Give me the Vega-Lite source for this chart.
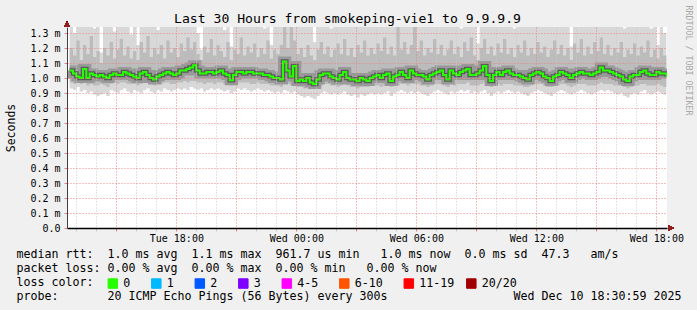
{
  "$schema": "https://vega.github.io/schema/vega-lite/v6.json",
  "width": 600,
  "height": 201,
  "autosize": "none",
  "padding": {"left": 67, "top": 27, "right": 30, "bottom": 82},
  "background": "#f0f0f0",
  "title": {
    "text": "Last 30 Hours from smokeping-vie1 to 9.9.9.9",
    "orient": "top", "anchor": "middle", "frame": "group",
    "dx": -19.5, "offset": -21,
    "font": "DejaVu Sans Mono", "fontSize": 13.1, "fontWeight": "normal", "color": "#000000"
  },
  "config": {
    "font": "DejaVu Sans Mono",
    "view": {"stroke": null, "fill": "#ffffff"}
  },
  "data": {"values": [
    {"t":760,"m":1.05,"lo":0.93,"q1":0.97,"q3":1.20,"hi":1.38},
    {"t":770,"m":1.03,"lo":0.92,"q1":0.96,"q3":1.15,"hi":1.30},
    {"t":780,"m":1.01,"lo":0.94,"q1":0.97,"q3":1.25,"hi":1.38},
    {"t":790,"m":1.00,"lo":0.91,"q1":0.96,"q3":1.12,"hi":1.36},
    {"t":800,"m":1.06,"lo":0.92,"q1":0.97,"q3":1.22,"hi":1.40},
    {"t":810,"m":1.00,"lo":0.90,"q1":0.95,"q3":1.16,"hi":1.38},
    {"t":820,"m":1.03,"lo":0.91,"q1":0.96,"q3":1.28,"hi":1.40},
    {"t":830,"m":1.02,"lo":0.89,"q1":0.95,"q3":1.14,"hi":1.33},
    {"t":840,"m":1.01,"lo":0.88,"q1":0.95,"q3":1.18,"hi":1.38},
    {"t":850,"m":1.02,"lo":0.89,"q1":0.96,"q3":1.10,"hi":1.17},
    {"t":860,"m":1.01,"lo":0.90,"q1":0.95,"q3":1.20,"hi":1.38},
    {"t":870,"m":1.00,"lo":0.88,"q1":0.94,"q3":1.15,"hi":1.36},
    {"t":880,"m":1.02,"lo":0.92,"q1":0.96,"q3":1.24,"hi":1.40},
    {"t":890,"m":1.03,"lo":0.91,"q1":0.97,"q3":1.13,"hi":1.31},
    {"t":900,"m":1.02,"lo":0.90,"q1":0.96,"q3":1.19,"hi":1.38},
    {"t":910,"m":1.02,"lo":0.92,"q1":0.97,"q3":1.26,"hi":1.40},
    {"t":920,"m":1.04,"lo":0.93,"q1":0.97,"q3":1.15,"hi":1.36},
    {"t":930,"m":1.03,"lo":0.91,"q1":0.96,"q3":1.21,"hi":1.38},
    {"t":940,"m":1.02,"lo":0.90,"q1":0.96,"q3":1.13,"hi":1.29},
    {"t":950,"m":1.01,"lo":0.92,"q1":0.96,"q3":1.18,"hi":1.38},
    {"t":960,"m":1.00,"lo":0.91,"q1":0.95,"q3":1.12,"hi":1.22},
    {"t":970,"m":1.03,"lo":0.90,"q1":0.96,"q3":1.24,"hi":1.40},
    {"t":980,"m":1.04,"lo":0.92,"q1":0.97,"q3":1.17,"hi":1.37},
    {"t":990,"m":1.02,"lo":0.93,"q1":0.97,"q3":1.28,"hi":1.40},
    {"t":1000,"m":1.00,"lo":0.91,"q1":0.96,"q3":1.14,"hi":1.35},
    {"t":1010,"m":0.99,"lo":0.90,"q1":0.95,"q3":1.20,"hi":1.38},
    {"t":1020,"m":1.01,"lo":0.92,"q1":0.96,"q3":1.16,"hi":1.32},
    {"t":1030,"m":1.02,"lo":0.91,"q1":0.96,"q3":1.22,"hi":1.40},
    {"t":1040,"m":1.03,"lo":0.93,"q1":0.97,"q3":1.13,"hi":1.37},
    {"t":1050,"m":1.04,"lo":0.92,"q1":0.97,"q3":1.25,"hi":1.40},
    {"t":1060,"m":1.03,"lo":0.91,"q1":0.96,"q3":1.17,"hi":1.36},
    {"t":1070,"m":1.02,"lo":0.92,"q1":0.96,"q3":1.20,"hi":1.38},
    {"t":1080,"m":1.03,"lo":0.93,"q1":0.97,"q3":1.14,"hi":1.34},
    {"t":1090,"m":1.05,"lo":0.92,"q1":0.97,"q3":1.23,"hi":1.40},
    {"t":1100,"m":1.05,"lo":0.93,"q1":0.98,"q3":1.18,"hi":1.38},
    {"t":1110,"m":1.06,"lo":0.92,"q1":0.97,"q3":1.27,"hi":1.40},
    {"t":1120,"m":1.07,"lo":0.94,"q1":0.98,"q3":1.19,"hi":1.38},
    {"t":1130,"m":1.085,"lo":0.93,"q1":0.98,"q3":1.24,"hi":1.40},
    {"t":1140,"m":1.05,"lo":0.92,"q1":0.97,"q3":1.16,"hi":1.30},
    {"t":1150,"m":1.03,"lo":0.93,"q1":0.97,"q3":1.12,"hi":1.19},
    {"t":1160,"m":1.03,"lo":0.91,"q1":0.96,"q3":1.21,"hi":1.38},
    {"t":1170,"m":1.04,"lo":0.92,"q1":0.97,"q3":1.17,"hi":1.36},
    {"t":1180,"m":1.04,"lo":0.93,"q1":0.97,"q3":1.26,"hi":1.40},
    {"t":1190,"m":1.03,"lo":0.92,"q1":0.96,"q3":1.15,"hi":1.38},
    {"t":1200,"m":1.04,"lo":0.93,"q1":0.97,"q3":1.22,"hi":1.40},
    {"t":1210,"m":1.05,"lo":0.92,"q1":0.97,"q3":1.18,"hi":1.37},
    {"t":1220,"m":1.03,"lo":0.91,"q1":0.96,"q3":1.14,"hi":1.32},
    {"t":1230,"m":1.02,"lo":0.92,"q1":0.96,"q3":1.24,"hi":1.40},
    {"t":1240,"m":0.985,"lo":0.90,"q1":0.95,"q3":1.12,"hi":1.21},
    {"t":1250,"m":1.02,"lo":0.91,"q1":0.96,"q3":1.19,"hi":1.38},
    {"t":1260,"m":1.04,"lo":0.93,"q1":0.97,"q3":1.16,"hi":1.36},
    {"t":1270,"m":1.04,"lo":0.92,"q1":0.97,"q3":1.27,"hi":1.40},
    {"t":1280,"m":1.03,"lo":0.93,"q1":0.97,"q3":1.15,"hi":1.38},
    {"t":1290,"m":1.04,"lo":0.92,"q1":0.97,"q3":1.21,"hi":1.40},
    {"t":1300,"m":1.04,"lo":0.91,"q1":0.96,"q3":1.17,"hi":1.35},
    {"t":1310,"m":1.03,"lo":0.92,"q1":0.96,"q3":1.23,"hi":1.40},
    {"t":1320,"m":1.03,"lo":0.93,"q1":0.97,"q3":1.14,"hi":1.37},
    {"t":1330,"m":1.03,"lo":0.92,"q1":0.96,"q3":1.20,"hi":1.38},
    {"t":1340,"m":1.02,"lo":0.91,"q1":0.96,"q3":1.16,"hi":1.33},
    {"t":1350,"m":1.02,"lo":0.92,"q1":0.96,"q3":1.25,"hi":1.40},
    {"t":1360,"m":1.01,"lo":0.91,"q1":0.95,"q3":1.13,"hi":1.22},
    {"t":1370,"m":1.00,"lo":0.90,"q1":0.95,"q3":1.19,"hi":1.38},
    {"t":1380,"m":1.00,"lo":0.91,"q1":0.95,"q3":1.16,"hi":1.36},
    {"t":1390,"m":0.99,"lo":0.90,"q1":0.94,"q3":1.22,"hi":1.40},
    {"t":1400,"m":1.11,"lo":0.92,"q1":0.97,"q3":1.34,"hi":1.40},
    {"t":1410,"m":1.05,"lo":0.91,"q1":0.96,"q3":1.20,"hi":1.38},
    {"t":1420,"m":1.01,"lo":0.90,"q1":0.95,"q3":1.34,"hi":1.40},
    {"t":1430,"m":1.08,"lo":0.91,"q1":0.96,"q3":1.25,"hi":1.40},
    {"t":1440,"m":0.98,"lo":0.89,"q1":0.94,"q3":1.16,"hi":1.36},
    {"t":1450,"m":0.99,"lo":0.88,"q1":0.94,"q3":1.20,"hi":1.38},
    {"t":1460,"m":0.98,"lo":0.87,"q1":0.93,"q3":1.14,"hi":1.34},
    {"t":1470,"m":1.00,"lo":0.88,"q1":0.94,"q3":1.22,"hi":1.40},
    {"t":1480,"m":0.97,"lo":0.87,"q1":0.93,"q3":1.15,"hi":1.36},
    {"t":1490,"m":0.96,"lo":0.86,"q1":0.93,"q3":1.12,"hi":1.24},
    {"t":1500,"m":0.99,"lo":0.88,"q1":0.94,"q3":1.19,"hi":1.38},
    {"t":1510,"m":1.02,"lo":0.90,"q1":0.95,"q3":1.24,"hi":1.40},
    {"t":1520,"m":1.03,"lo":0.91,"q1":0.96,"q3":1.16,"hi":1.37},
    {"t":1530,"m":1.03,"lo":0.90,"q1":0.96,"q3":1.21,"hi":1.40},
    {"t":1540,"m":1.01,"lo":0.89,"q1":0.95,"q3":1.14,"hi":1.33},
    {"t":1550,"m":1.00,"lo":0.90,"q1":0.95,"q3":1.19,"hi":1.38},
    {"t":1560,"m":0.99,"lo":0.89,"q1":0.94,"q3":1.23,"hi":1.40},
    {"t":1570,"m":1.02,"lo":0.90,"q1":0.95,"q3":1.16,"hi":1.36},
    {"t":1580,"m":1.04,"lo":0.91,"q1":0.96,"q3":1.26,"hi":1.40},
    {"t":1590,"m":1.00,"lo":0.89,"q1":0.95,"q3":1.15,"hi":1.37},
    {"t":1600,"m":0.99,"lo":0.88,"q1":0.94,"q3":1.20,"hi":1.38},
    {"t":1610,"m":0.99,"lo":0.89,"q1":0.94,"q3":1.14,"hi":1.34},
    {"t":1620,"m":0.98,"lo":0.87,"q1":0.93,"q3":1.22,"hi":1.40},
    {"t":1630,"m":1.00,"lo":0.89,"q1":0.94,"q3":1.17,"hi":1.36},
    {"t":1640,"m":0.99,"lo":0.88,"q1":0.94,"q3":1.25,"hi":1.40},
    {"t":1650,"m":0.98,"lo":0.89,"q1":0.94,"q3":1.15,"hi":1.35},
    {"t":1660,"m":1.00,"lo":0.90,"q1":0.95,"q3":1.20,"hi":1.38},
    {"t":1670,"m":1.01,"lo":0.89,"q1":0.95,"q3":1.16,"hi":1.34},
    {"t":1680,"m":1.02,"lo":0.90,"q1":0.95,"q3":1.23,"hi":1.40},
    {"t":1690,"m":1.00,"lo":0.89,"q1":0.94,"q3":1.18,"hi":1.37},
    {"t":1700,"m":1.02,"lo":0.90,"q1":0.95,"q3":1.27,"hi":1.40},
    {"t":1710,"m":1.03,"lo":0.91,"q1":0.96,"q3":1.16,"hi":1.36},
    {"t":1720,"m":0.98,"lo":0.88,"q1":0.94,"q3":1.21,"hi":1.38},
    {"t":1730,"m":1.01,"lo":0.90,"q1":0.95,"q3":1.15,"hi":1.34},
    {"t":1740,"m":1.02,"lo":0.91,"q1":0.95,"q3":1.34,"hi":1.40},
    {"t":1750,"m":1.04,"lo":0.92,"q1":0.96,"q3":1.19,"hi":1.38},
    {"t":1760,"m":1.02,"lo":0.91,"q1":0.96,"q3":1.24,"hi":1.40},
    {"t":1770,"m":1.00,"lo":0.90,"q1":0.95,"q3":1.16,"hi":1.36},
    {"t":1780,"m":1.05,"lo":0.91,"q1":0.96,"q3":1.22,"hi":1.40},
    {"t":1790,"m":1.03,"lo":0.90,"q1":0.96,"q3":1.34,"hi":1.40},
    {"t":1800,"m":1.02,"lo":0.91,"q1":0.96,"q3":1.18,"hi":1.37},
    {"t":1810,"m":1.02,"lo":0.90,"q1":0.95,"q3":1.25,"hi":1.40},
    {"t":1820,"m":1.01,"lo":0.89,"q1":0.95,"q3":1.15,"hi":1.35},
    {"t":1830,"m":0.99,"lo":0.88,"q1":0.94,"q3":1.20,"hi":1.38},
    {"t":1840,"m":1.02,"lo":0.90,"q1":0.95,"q3":1.17,"hi":1.36},
    {"t":1850,"m":1.03,"lo":0.91,"q1":0.96,"q3":1.26,"hi":1.40},
    {"t":1860,"m":1.04,"lo":0.92,"q1":0.96,"q3":1.16,"hi":1.37},
    {"t":1870,"m":1.05,"lo":0.91,"q1":0.96,"q3":1.22,"hi":1.40},
    {"t":1880,"m":1.02,"lo":0.90,"q1":0.95,"q3":1.15,"hi":1.34},
    {"t":1890,"m":0.99,"lo":0.89,"q1":0.94,"q3":1.19,"hi":1.38},
    {"t":1900,"m":1.05,"lo":0.91,"q1":0.96,"q3":1.25,"hi":1.40},
    {"t":1910,"m":1.03,"lo":0.90,"q1":0.95,"q3":1.16,"hi":1.36},
    {"t":1920,"m":1.02,"lo":0.91,"q1":0.96,"q3":1.21,"hi":1.38},
    {"t":1930,"m":1.04,"lo":0.92,"q1":0.96,"q3":1.14,"hi":1.33},
    {"t":1940,"m":1.05,"lo":0.91,"q1":0.96,"q3":1.24,"hi":1.40},
    {"t":1950,"m":1.06,"lo":0.92,"q1":0.97,"q3":1.18,"hi":1.37},
    {"t":1960,"m":1.02,"lo":0.90,"q1":0.95,"q3":1.27,"hi":1.40},
    {"t":1970,"m":1.02,"lo":0.91,"q1":0.95,"q3":1.15,"hi":1.35},
    {"t":1980,"m":1.03,"lo":0.90,"q1":0.95,"q3":1.12,"hi":1.23},
    {"t":1990,"m":1.05,"lo":0.91,"q1":0.96,"q3":1.20,"hi":1.38},
    {"t":2000,"m":1.08,"lo":0.92,"q1":0.97,"q3":1.26,"hi":1.40},
    {"t":2010,"m":1.02,"lo":0.90,"q1":0.95,"q3":1.16,"hi":1.36},
    {"t":2020,"m":0.98,"lo":0.88,"q1":0.94,"q3":1.21,"hi":1.38},
    {"t":2030,"m":1.02,"lo":0.90,"q1":0.95,"q3":1.15,"hi":1.34},
    {"t":2040,"m":1.04,"lo":0.91,"q1":0.96,"q3":1.23,"hi":1.40},
    {"t":2050,"m":1.02,"lo":0.90,"q1":0.95,"q3":1.17,"hi":1.37},
    {"t":2060,"m":1.04,"lo":0.91,"q1":0.96,"q3":1.26,"hi":1.40},
    {"t":2070,"m":1.05,"lo":0.92,"q1":0.96,"q3":1.16,"hi":1.36},
    {"t":2080,"m":1.03,"lo":0.91,"q1":0.96,"q3":1.20,"hi":1.38},
    {"t":2090,"m":1.02,"lo":0.90,"q1":0.95,"q3":1.14,"hi":1.33},
    {"t":2100,"m":1.02,"lo":0.91,"q1":0.95,"q3":1.22,"hi":1.40},
    {"t":2110,"m":1.01,"lo":0.90,"q1":0.95,"q3":1.17,"hi":1.36},
    {"t":2120,"m":1.00,"lo":0.89,"q1":0.94,"q3":1.25,"hi":1.40},
    {"t":2130,"m":0.99,"lo":0.88,"q1":0.94,"q3":1.15,"hi":1.35},
    {"t":2140,"m":1.02,"lo":0.90,"q1":0.95,"q3":1.20,"hi":1.38},
    {"t":2150,"m":1.03,"lo":0.91,"q1":0.96,"q3":1.16,"hi":1.37},
    {"t":2160,"m":1.04,"lo":0.92,"q1":0.96,"q3":1.24,"hi":1.40},
    {"t":2170,"m":1.03,"lo":0.91,"q1":0.96,"q3":1.17,"hi":1.36},
    {"t":2180,"m":1.01,"lo":0.90,"q1":0.95,"q3":1.21,"hi":1.38},
    {"t":2190,"m":1.00,"lo":0.89,"q1":0.94,"q3":1.14,"hi":1.34},
    {"t":2200,"m":0.98,"lo":0.88,"q1":0.94,"q3":1.19,"hi":1.38},
    {"t":2210,"m":1.01,"lo":0.90,"q1":0.95,"q3":1.25,"hi":1.40},
    {"t":2220,"m":1.02,"lo":0.91,"q1":0.95,"q3":1.16,"hi":1.36},
    {"t":2230,"m":1.04,"lo":0.92,"q1":0.96,"q3":1.22,"hi":1.40},
    {"t":2240,"m":1.03,"lo":0.91,"q1":0.96,"q3":1.15,"hi":1.35},
    {"t":2250,"m":1.02,"lo":0.90,"q1":0.95,"q3":1.20,"hi":1.38},
    {"t":2260,"m":1.00,"lo":0.89,"q1":0.94,"q3":1.12,"hi":1.21},
    {"t":2270,"m":1.02,"lo":0.90,"q1":0.95,"q3":1.23,"hi":1.40},
    {"t":2280,"m":1.03,"lo":0.91,"q1":0.96,"q3":1.17,"hi":1.37},
    {"t":2290,"m":1.04,"lo":0.92,"q1":0.96,"q3":1.26,"hi":1.40},
    {"t":2300,"m":1.03,"lo":0.91,"q1":0.96,"q3":1.15,"hi":1.35},
    {"t":2310,"m":1.03,"lo":0.90,"q1":0.95,"q3":1.21,"hi":1.38},
    {"t":2320,"m":1.02,"lo":0.89,"q1":0.95,"q3":1.16,"hi":1.36},
    {"t":2330,"m":1.03,"lo":0.90,"q1":0.95,"q3":1.24,"hi":1.40},
    {"t":2340,"m":1.04,"lo":0.91,"q1":0.96,"q3":1.18,"hi":1.37},
    {"t":2350,"m":1.07,"lo":0.92,"q1":0.97,"q3":1.27,"hi":1.40},
    {"t":2360,"m":1.05,"lo":0.91,"q1":0.96,"q3":1.16,"hi":1.36},
    {"t":2370,"m":1.05,"lo":0.92,"q1":0.96,"q3":1.22,"hi":1.40},
    {"t":2380,"m":1.04,"lo":0.91,"q1":0.96,"q3":1.15,"hi":1.34},
    {"t":2390,"m":1.03,"lo":0.90,"q1":0.95,"q3":1.20,"hi":1.38},
    {"t":2400,"m":1.02,"lo":0.89,"q1":0.95,"q3":1.17,"hi":1.36},
    {"t":2410,"m":1.01,"lo":0.90,"q1":0.95,"q3":1.24,"hi":1.40},
    {"t":2420,"m":0.99,"lo":0.88,"q1":0.94,"q3":1.14,"hi":1.33},
    {"t":2430,"m":0.98,"lo":0.87,"q1":0.93,"q3":1.19,"hi":1.38},
    {"t":2440,"m":1.01,"lo":0.89,"q1":0.94,"q3":1.16,"hi":1.36},
    {"t":2450,"m":1.02,"lo":0.90,"q1":0.95,"q3":1.23,"hi":1.40},
    {"t":2460,"m":1.02,"lo":0.89,"q1":0.95,"q3":1.15,"hi":1.35},
    {"t":2470,"m":1.04,"lo":0.91,"q1":0.96,"q3":1.21,"hi":1.38},
    {"t":2480,"m":1.05,"lo":0.92,"q1":0.96,"q3":1.17,"hi":1.37},
    {"t":2490,"m":1.03,"lo":0.90,"q1":0.95,"q3":1.25,"hi":1.40},
    {"t":2500,"m":1.02,"lo":0.89,"q1":0.95,"q3":1.14,"hi":1.33},
    {"t":2510,"m":1.02,"lo":0.90,"q1":0.95,"q3":1.19,"hi":1.36},
    {"t":2520,"m":1.04,"lo":0.91,"q1":0.96,"q3":1.13,"hi":1.22},
    {"t":2530,"m":1.03,"lo":0.90,"q1":0.95,"q3":1.20,"hi":1.34},
    {"t":2540,"m":1.03,"lo":0.89,"q1":0.94,"q3":1.15,"hi":1.30},
    {"t":2550,"m":1.01,"lo":0.90,"q1":0.95,"q3":1.18,"hi":1.32}
  ]},
  "encoding": {
    "x": {
      "field": "t", "type": "quantitative",
      "scale": {"domain": [752, 2552], "nice": false, "zero": false},
      "axis": {
        "zindex": 1,
        "values": [780,840,900,960,1020,1080,1140,1200,1260,1320,1380,1440,1500,1560,1620,1680,1740,1800,1860,1920,1980,2040,2100,2160,2220,2280,2340,2400,2460,2520],
        "labelExpr": "datum.value % 360 == 0 ? (datum.value < 1440 ? 'Tue ' : 'Wed ') + (floor((datum.value % 1440) / 60) < 10 ? '0' : '') + floor((datum.value % 1440) / 60) + ':00' : ''",
        "labelFont": "DejaVu Sans Mono", "labelFontSize": 10, "labelColor": "#000000",
        "labelPadding": 2, "labelAngle": 0, "labelFlush": false, "labelOverlap": false, "labelBound": false,
        "grid": true,
        "gridColor": {"condition": {"test": "datum.value % 180 == 0", "value": "#e88080"}, "value": "#c8c8c8"},
        "gridDash": [1, 2], "gridWidth": 1,
        "tickSize": 3,
        "tickColor": {"condition": {"test": "datum.value % 180 == 0", "value": "#e88080"}, "value": "#c8c8c8"},
        "domainColor": "#000000", "domainWidth": 1.5,
        "title": [
          "median rtt:\u00a0\u00a01.0 ms avg\u00a0\u00a01.1 ms max\u00a0\u00a0961.7 us min\u00a0\u00a0\u00a01.0 ms now\u00a0\u00a00.0 ms sd\u00a0\u00a047.3\u00a0\u00a0\u00a0am/s",
          "packet loss:\u00a00.00 % avg\u00a0\u00a00.00 % max\u00a0\u00a00.00 % min\u00a0\u00a0\u00a00.00 % now",
          "loss color:",
          "probe:\u00a0\u00a0\u00a0\u00a0\u00a0\u00a0\u00a020 ICMP Echo Pings (56 Bytes) every 300s\u00a0\u00a0\u00a0\u00a0\u00a0\u00a0\u00a0\u00a0\u00a0\u00a0\u00a0\u00a0\u00a0\u00a0\u00a0\u00a0\u00a0\u00a0Wed Dec 10 18:30:59 2025"
        ],
        "titleFont": "DejaVu Sans Mono", "titleFontSize": 11.63, "titleFontWeight": "normal", "titleColor": "#000000",
        "titleAlign": "left", "titleAnchor": "start", "titleBaseline": "alphabetic",
        "titleX": -51, "titleY": 29, "titleLineHeight": 14.3
      }
    }
  },
  "resolve": {"axis": {"y": "independent"}},
  "layer": [
    {
      "mark": {"type": "area", "interpolate": "step-after", "color": "#d8d8d8", "clip": true},
      "encoding": {
        "y": {
          "field": "lo", "type": "quantitative",
          "scale": {"domain": [0, 1.34], "nice": false, "zero": false},
          "axis": {
            "zindex": 1,
            "values": [0, 0.1, 0.2, 0.3, 0.4, 0.5, 0.6, 0.7, 0.8, 0.9, 1.0, 1.1, 1.2, 1.3],
            "labelExpr": "datum.value == 0 ? '0.0\u00a0\u00a0' : format(datum.value, '.1f') + ' m'",
            "labelFont": "DejaVu Sans Mono", "labelFontSize": 10, "labelColor": "#000000", "labelPadding": 4,
            "labelFlush": false, "labelOverlap": false, "labelBound": false,
            "grid": true, "gridColor": "#e88080", "gridDash": [1, 2], "gridWidth": 1,
            "tickSize": 3, "tickColor": "#e88080",
            "domainColor": "#404040", "domainWidth": 1,
            "title": "Seconds",
            "titleFont": "DejaVu Sans Mono", "titleFontSize": 11.5, "titleFontWeight": "normal", "titleColor": "#000000",
            "titlePadding": 13
          }
        },
        "y2": {"field": "hi"}
      }
    },
    {
      "mark": {"type": "area", "interpolate": "step-after", "color": "#bcbcbc", "clip": true},
      "encoding": {
        "y": {"field": "q1", "type": "quantitative", "scale": {"domain": [0, 1.34], "nice": false, "zero": false}, "axis": null},
        "y2": {"field": "q3"}
      }
    },
    {
      "mark": {"type": "line", "interpolate": "step-after", "color": "#999999", "strokeWidth": 10, "clip": true},
      "encoding": {
        "y": {"field": "m", "type": "quantitative", "scale": {"domain": [0, 1.34], "nice": false, "zero": false}, "axis": null}
      }
    },
    {
      "mark": {"type": "line", "interpolate": "step-after", "color": "#5a5a5a", "strokeWidth": 4.5, "clip": true},
      "encoding": {
        "y": {"field": "m", "type": "quantitative", "scale": {"domain": [0, 1.34], "nice": false, "zero": false}, "axis": null}
      }
    },
    {
      "mark": {"type": "line", "interpolate": "step-after", "strokeWidth": 2, "clip": true},
      "encoding": {
        "y": {"field": "m", "type": "quantitative", "scale": {"domain": [0, 1.34], "nice": false, "zero": false}, "axis": null},
        "color": {
          "datum": "0\u2800\u2800", "type": "nominal",
          "scale": {
            "domain": ["0\u2800\u2800", "1\u2800\u2800", "2\u2800\u2800", "3\u2800\u2800", "4-5\u2800\u2800", "6-10\u2800\u2800", "11-19\u2800", "20/20"],
            "range": ["#26ff00", "#00b8ff", "#0059ff", "#7e00ff", "#ff00ff", "#ff5500", "#ff0000", "#a10000"]
          },
          "legend": {
            "orient": "none", "legendX": 40, "legendY": 250.5,
            "direction": "horizontal", "columns": 8, "title": null,
            "symbolType": "square", "symbolSize": 90, "symbolStrokeColor": "#000000", "symbolStrokeWidth": 1, "symbolOpacity": 1,
            "labelFont": "DejaVu Sans Mono", "labelFontSize": 11.63, "labelColor": "#000000", "labelOffset": 4.5,
            "columnPadding": 0.5, "padding": 0,
            "encode": {"symbols": {"update": {"fill": {"scale": "color", "field": "value"}, "stroke": {"value": "#000000"}, "strokeWidth": {"value": 1}, "opacity": {"value": 1}}}}
          }
        }
      }
    },
    {
      "mark": {"type": "point", "shape": "triangle-up", "filled": true, "size": 30, "color": "#902020", "opacity": 1},
      "encoding": {
        "x": {"datum": 752, "type": "quantitative", "scale": {"domain": [752, 2552], "nice": false, "zero": false}},
        "y": {
          "datum": 1.36, "type": "quantitative",
          "scale": {"domain": [0, 1.34], "nice": false, "zero": false},
          "axis": {
            "orient": "right", "labels": false, "ticks": false, "domain": false, "grid": false,
            "title": "RRDTOOL / TOBI OETIKER",
            "titleAngle": 90, "titleFont": "DejaVu Sans Mono", "titleFontSize": 8.3, "titleFontWeight": "normal",
            "titleColor": "#a8a8a8", "titleAlign": "center", "titleBaseline": "alphabetic",
            "titleX": 18, "titleY": 33
          }
        }
      }
    },
    {
      "mark": {"type": "point", "shape": "triangle-right", "filled": true, "size": 30, "color": "#902020", "opacity": 1},
      "encoding": {
        "x": {"datum": 2564, "type": "quantitative", "scale": {"domain": [752, 2552], "nice": false, "zero": false}},
        "y": {"datum": 0, "type": "quantitative", "scale": {"domain": [0, 1.34], "nice": false, "zero": false}, "axis": null}
      }
    }
  ]
}
